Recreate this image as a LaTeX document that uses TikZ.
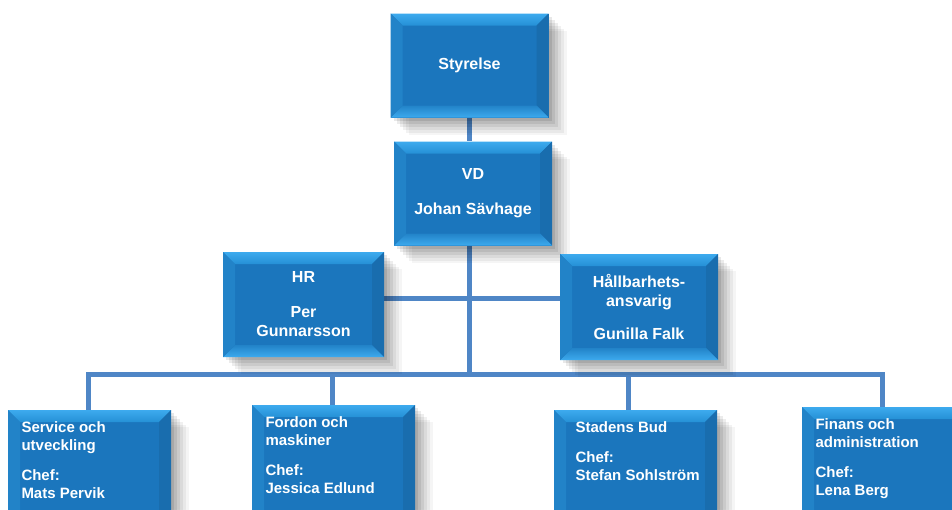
\documentclass[tikz,border=0pt]{standalone}
\usepackage{fontspec}
\setmainfont{Liberation Sans}
\usetikzlibrary{calc,shadows,backgrounds}
\newcommand\bev{12pt}
\newcommand\depttext[1]{\parbox[c][96pt][t]{136pt}{\raggedright #1}}
\definecolor{boxface}{HTML}{1B76BD}
\definecolor{bevhi}{HTML}{3DAAEE}
\definecolor{bevmid}{HTML}{2590D6}
\definecolor{bevleft}{HTML}{2283C8}
\definecolor{bevright}{HTML}{196DAE}
\definecolor{linkblue}{HTML}{4F86C6}

\begin{document}
\begin{tikzpicture}[
      x=1pt, y=-1pt,
      soft/.style = {
        general shadow={fill=black, opacity=0.09, shadow xshift=3pt, shadow yshift=-3pt},
        general shadow={fill=black, opacity=0.08, shadow xshift=6pt, shadow yshift=-6pt},
        general shadow={fill=black, opacity=0.07, shadow xshift=9pt, shadow yshift=-9pt},
        general shadow={fill=black, opacity=0.06, shadow xshift=12pt, shadow yshift=-12pt},
        general shadow={fill=black, opacity=0.05, shadow xshift=15pt, shadow yshift=-15pt},
        general shadow={fill=black, opacity=0.04, shadow xshift=18pt, shadow yshift=-17pt},
      },
      unit/.style = {
        soft,
        fill=boxface,
        minimum width=158pt,
        minimum height=104pt,
        inner sep=0pt,
        text=white,
        align=center,
        font=\bfseries\fontsize{16}{19}\selectfont,
        path picture={
          \coordinate (nw) at (path picture bounding box.north west);
          \coordinate (se) at (path picture bounding box.south east);
          \coordinate (ne) at (se |- nw);
          \coordinate (sw) at (nw |- se);
          \shade[top color=bevhi, bottom color=bevmid]
            (nw) -- (ne) -- ++(-\bev,-\bev) -- ($(nw)+(\bev,-\bev)$) -- cycle;
          \fill[bevright]
            (ne) -- (se) -- ++(-\bev,\bev) -- ($(ne)+(-\bev,-\bev)$) -- cycle;
          \shade[top color=bevleft, bottom color=bevhi]
            (se) -- (sw) -- ++(\bev,\bev) -- ($(se)+(-\bev,\bev)$) -- cycle;
          \fill[bevleft]
            (sw) -- (nw) -- ++(\bev,-\bev) -- ($(sw)+(\bev,\bev)$) -- cycle;
        },
      },
      dept/.style = {
        unit,
        anchor=north,
        minimum width=163pt,
        minimum height=118pt,
        align=left,
        font=\bfseries\fontsize{15}{18}\selectfont,
      },
      conn/.style = {
        draw=linkblue,
        line width=5pt,
      },
    ]
      \useasboundingbox (0,0) rectangle (952,509);

      % top of the tree
      \node[unit] (st) at (469.5, 65.5) {Styrelse};
      \node[unit] (vd) at (473, 193.5) {VD\\[16pt]Johan Sävhage};
      \node[unit, minimum width=161pt, minimum height=105pt] (hr) at (303.5, 304.5)
        {HR\\[16pt]Per\\Gunnarsson};
      \node[unit, minimum height=106pt] (hl) at (639, 307)
        {Hållbarhets-\\ansvarig\\[14pt]Gunilla Falk};

      % departments
      \node[dept] (sv) at (89.5, 410) {\depttext{Service och\\utveckling\\[12pt]Chef:\\Mats Pervik}};
      \node[dept] (fo) at (333.5, 405) {\depttext{Fordon och\\maskiner\\[12pt]Chef:\\Jessica Edlund}};
      \node[dept] (sb) at (635.5, 410) {\depttext{\hspace*{8pt}Stadens Bud\\[12pt]\hspace*{8pt}Chef:\\\hspace*{8pt}Stefan Sohlström}};
      \node[dept] (fi) at (883.5, 407) {\depttext{Finans och\\administration\\[12pt]Chef:\\Lena Berg}};

      \coordinate (bus) at (469.5, 374);
      \coordinate (side) at (469.5, 298);

      \begin{pgfonlayer}{background}
        \fill[white] (0,0) rectangle (952,509);
        \draw[conn] (st.south) -- (st.south |- vd.north);
        \draw[conn] (vd.south -| bus) -- (bus);
        \draw[conn] (hr.east |- side) -- (hl.west |- side);
        \draw[conn, line join=miter] ([xshift=-1.5pt]sv.north) |- (bus) -| ([xshift=-1.5pt]fi.north);
        \draw[conn] ([xshift=-1.5pt]fo.north) -- ([xshift=-1.5pt]fo.north |- bus);
        \draw[conn] ([xshift=-7.5pt]sb.north) -- ([xshift=-7.5pt]sb.north |- bus);
      \end{pgfonlayer}

    \end{tikzpicture}
\end{document}
